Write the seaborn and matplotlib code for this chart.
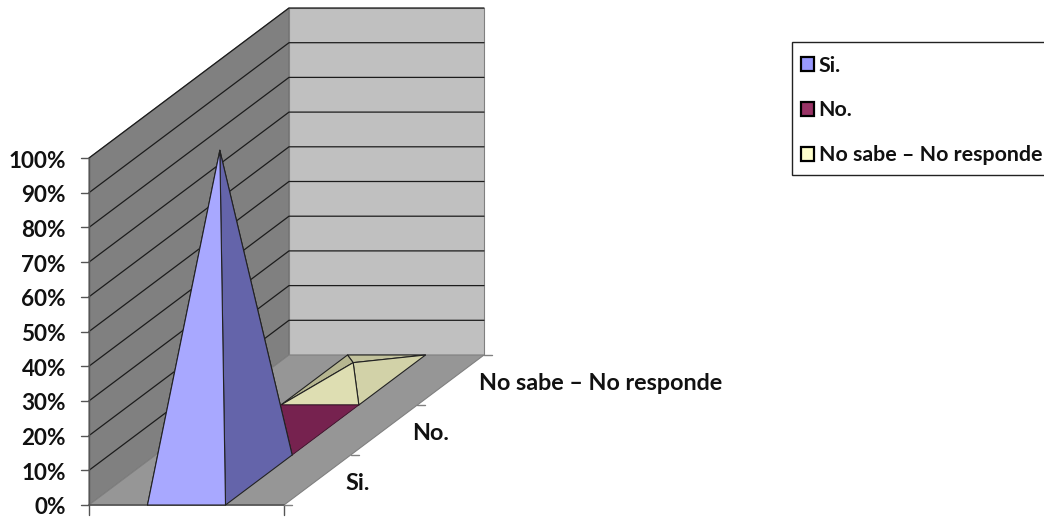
import matplotlib
matplotlib.use("Agg")
import matplotlib.pyplot as plt
from matplotlib.patches import Patch, Rectangle
import pandas as pd
import seaborn as sns

categories = ["Si.", "No.", "No sabe – No responde"]
shares = [0.95, 0.0, 0.05]
value_ticks = [0.0, 0.1, 0.2, 0.3, 0.4, 0.5, 0.6, 0.7, 0.8, 0.9, 1.0]

legend_colors = ["#9999FF", "#993366", "#FFFFCC"]
# front, right, left, back face shades of each pyramid
face_colors = [
    ("#A8A8FF", "#6464AA", "#6464AA", "#6464AA"),
    ("#76224F", "#76224F", "#76224F", "#76224F"),
    ("#DEDEB2", "#D2D2A8", "#B6B690", "#C2C29C"),
]

sns.set_theme(style="white")
plt.rcParams["font.family"] = ["Lato", "DejaVu Sans"]

W, H = 1044, 517
ORIGIN_X, ORIGIN_Y = 89.0, 505.0
WIDTH_PX, HEIGHT_PX = 195.0, 347.0
DEPTH_DX, DEPTH_DY = 200.0 / 3, -50.0


def project(across, depth, value):
    """Oblique projection of (across 0-1, depth in categories, value 0-1)."""
    return (
        ORIGIN_X + WIDTH_PX * across + DEPTH_DX * depth,
        ORIGIN_Y + DEPTH_DY * depth - HEIGHT_PX * value,
    )


fig = plt.figure(figsize=(W / 100, H / 100), dpi=100, facecolor="white")
ax = fig.add_axes([0, 0, 1, 1])

n = len(categories)
top = value_ticks[-1]


def face(points, color, edge="#222222", lw=0.8, z=2):
    xy = [project(*p) for p in points]
    ax.fill(*zip(*xy), facecolor=color, edgecolor=edge, linewidth=lw, zorder=z,
            joinstyle="round")


# Chart walls and floor
face([(0, 0, 0), (0, n, 0), (0, n, top), (0, 0, top)], "#808080", edge="#6e6e6e", z=1)
face([(0, n, 0), (1, n, 0), (1, n, top), (0, n, top)], "#C0C0C0", edge="#808080", z=1)
face([(0, 0, 0), (1, 0, 0), (1, n, 0), (0, n, 0)], "#969696", edge="#808080", z=1)

# Gridlines across both walls
rows = []
for v in value_ticks[1:]:
    for pos, (a, d) in enumerate([(0, 0), (0, n), (1, n)]):
        sx, sy = project(a, d, v)
        rows.append({"level": v, "order": pos, "sx": sx, "sy": sy})
grid = pd.DataFrame(rows)
sns.lineplot(data=grid, x="sx", y="sy", units="level", estimator=None, sort=False,
             color="#1c1c1c", linewidth=0.9, legend=False, ax=ax, zorder=1.5)

# Axis ticks
tick_color = "#555555"
for v in value_ticks:
    x, y = project(0, 0, v)
    ax.plot([x - 8, x], [y, y], color=tick_color, lw=1.0, zorder=1.6)
    ax.text(66, y + 3, f"{v:.0%}", ha="right", va="center", fontsize=16.2,
            fontweight="bold", color="#111111")
ax.plot(*zip(project(0, 0, 0), project(0, 0, top)), color=tick_color, lw=1.0, zorder=1.6)
for a in (0, 1):
    x, y = project(a, 0, 0)
    ax.plot([x, x], [y, y + 10], color=tick_color, lw=1.0, zorder=1.6)
ax.plot(*zip(project(0, 0, 0), project(1, 0, 0)), color=tick_color, lw=1.2, zorder=1.6)
for d in range(n + 1):
    x, y = project(1, d, 0)
    ax.plot([x, x + 8], [y, y], color="#808080", lw=1.0, zorder=1.6)

# Category labels beside the floor's right edge
for i, name in enumerate(categories):
    x, y = project(1, i + 0.5, 0)
    ax.text(x + 28, y + 3.5, name, ha="left", va="center", fontsize=16.8,
            fontweight="bold", color="#111111")

# Pyramids, painted from the back row to the front row
LOW, HIGH = 0.3, 0.7
for i in reversed(range(n)):
    value = shares[i]
    front, right, left, back = face_colors[i]
    apex = (0.5, i + 0.5, value)
    fl, fr = (LOW, i, 0), (HIGH, i, 0)
    bl, br = (LOW, i + 1, 0), (HIGH, i + 1, 0)
    z = 3 + (n - i)
    if value == 0:
        face([fl, fr, br, bl], front, edge="#3a1028", lw=0.6, z=z)
        continue
    face([bl, br, apex], back, z=z)
    face([fl, bl, apex], left, z=z)
    face([fr, br, apex], right, z=z)
    face([fl, fr, apex], front, z=z)

ax.set_xlim(0, W)
ax.set_ylim(H, 0)
ax.axis("off")

# Legend box, with its right side running to the figure edge
ax.add_patch(Rectangle((792, 42), 260, 133, facecolor="white", edgecolor="#222222",
                       linewidth=1.0, zorder=6, clip_on=True))
handles = [Patch(facecolor=c, edgecolor="black", linewidth=1.6, label=name)
           for c, name in zip(legend_colors, categories)]
leg = ax.legend(handles=handles, loc="upper left",
                bbox_to_anchor=(801 / W, 1 - 55.5 / H), borderaxespad=0,
                prop={"family": "Lato", "weight": "bold", "size": 15.4},
                handlelength=0.62, handleheight=0.62, handletextpad=0.2,
                labelspacing=1.16, borderpad=0, frameon=False)
leg.set_zorder(7)
for t in leg.get_texts():
    t.set_color("#111111")

fig.savefig("out.png", dpi=100)
